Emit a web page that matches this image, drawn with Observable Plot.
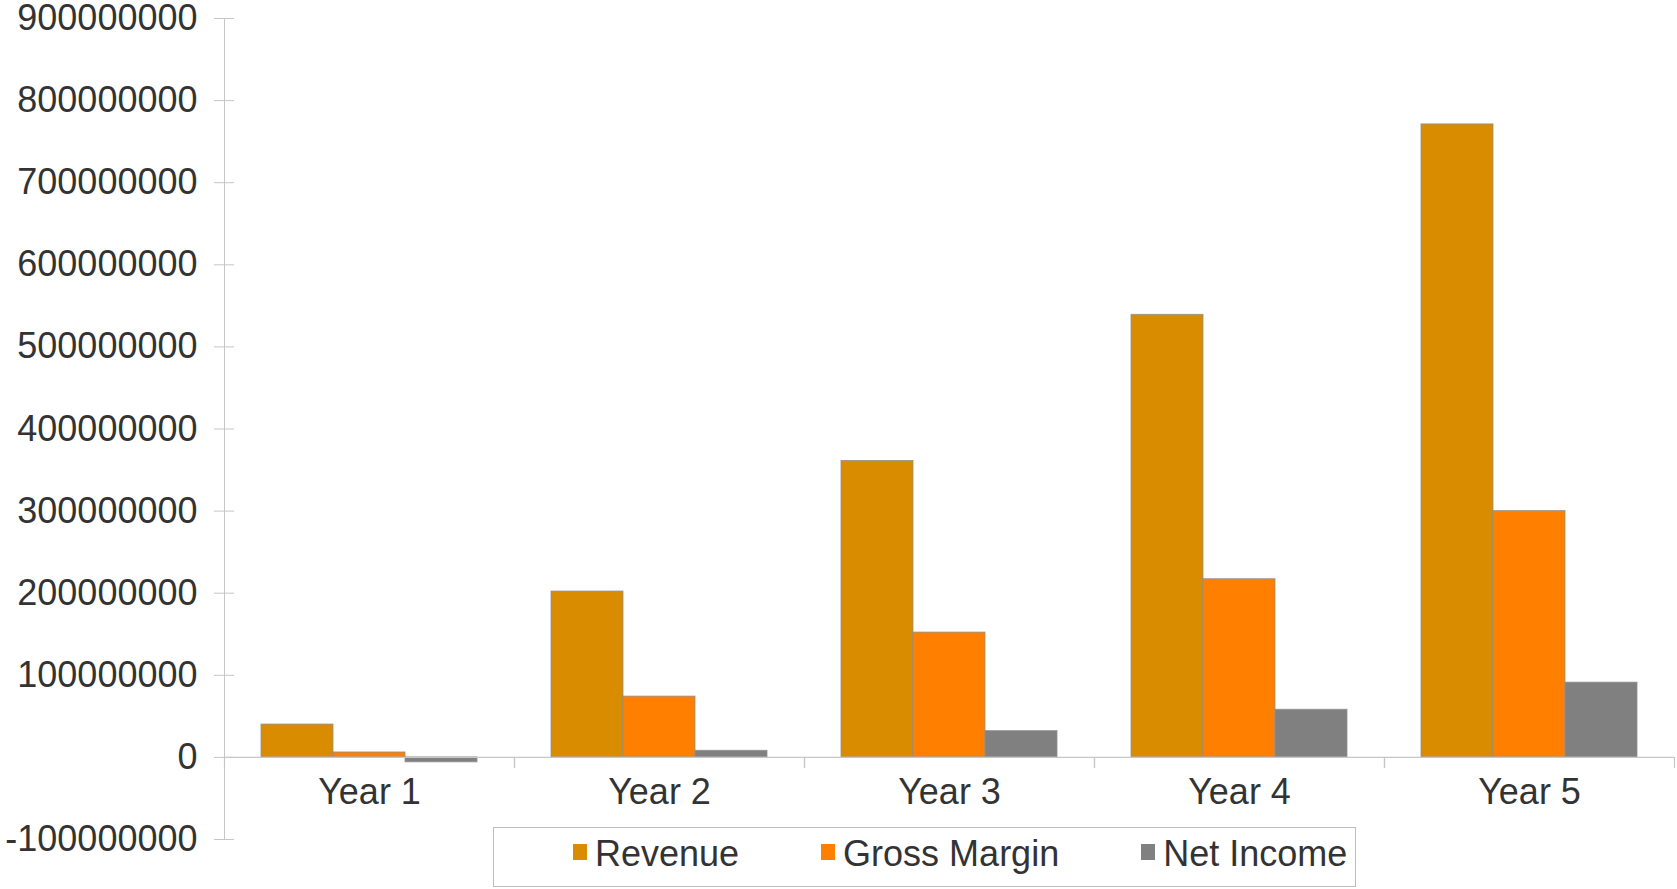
<!DOCTYPE html>
<html>
<head>
<meta charset="utf-8">
<script src="https://cdn.jsdelivr.net/npm/d3@7"></script>
<script src="https://cdn.jsdelivr.net/npm/@observablehq/plot@0.6"></script>
<style>
  html, body { margin: 0; padding: 0; background: #fff; }
  #wrap { position: relative; width: 1677px; height: 889px; font-family: "Liberation Sans", Arial, sans-serif; color: #333; }
  #legend { position: absolute; left: 493px; top: 827px; width: 863px; height: 60px; box-sizing: border-box;
            border: 1px solid #bdbdbd; display: flex; align-items: center; padding-left: 79px; font-size: 36px; line-height: 1; }
  #legend .item { display: flex; align-items: center; margin-right: 82px; white-space: nowrap; }
  #legend .item:last-child { margin-right: 0; }
  #legend .sw { display: inline-block; width: 14px; height: 16px; margin-right: 8px; position: relative; top: -5px; }
  #legend .lbl { position: relative; top: -3px; }
</style>
</head>
<body>
<div id="wrap"></div>
<script>
const years = ["Year 1", "Year 2", "Year 3", "Year 4", "Year 5"];
const seriesNames = ["Revenue", "Gross Margin", "Net Income"];
const revenue = [40e6, 202e6, 361e6, 539e6, 771e6];
const grossMargin = [6e6, 74e6, 152e6, 217e6, 300e6];
const netIncome = [-6e6, 8e6, 32e6, 58e6, 91e6];
const seriesColors = ["#d98c00", "#ff8000", "#808080"];
const yTicks = [-100000000, 0, 100000000, 200000000, 300000000, 400000000, 500000000, 600000000, 700000000, 800000000, 900000000];

const seriesValues = [revenue, grossMargin, netIncome];
const data = years.flatMap((year, i) =>
  seriesNames.map((series, s) => ({year, series, value: seriesValues[s][i]}))
);

const axisGray = "#c6c6c6";
const font = "Liberation Sans, Arial, sans-serif";
const tickShape = { draw(ctx, l) { ctx.moveTo(0, 0); ctx.lineTo(0, -l); } };

const chart = Plot.plot({
  width: 1677,
  height: 889,
  marginLeft: 223,
  marginRight: 2,
  marginTop: 18,
  marginBottom: 50,
  style: { fontFamily: font, background: "#fff", color: "#333" },
  fx: { domain: years, padding: 0, axis: null },
  x: { domain: seriesNames, paddingInner: 0, paddingOuter: 0.5, axis: null },
  y: { domain: [-100000000, 900000000], axis: null },
  color: { domain: seriesNames, range: seriesColors },
  marks: [
    Plot.frame({ anchor: "left", facetAnchor: "left", stroke: axisGray }),
    Plot.barY(data, { fx: "year", x: "series", y: "value", fill: "series", stroke: "#8f8f8f", strokeWidth: 1, strokeOpacity: 0.8 }),
    Plot.ruleY([0], { stroke: axisGray, strokeWidth: 1.2 }),
    Plot.vectorY([0], { y: d => d, frameAnchor: "left", length: 10, rotate: 180, anchor: "start", shape: tickShape, stroke: axisGray, strokeWidth: 1.2 }),
    Plot.vectorY([0], { y: d => d, frameAnchor: "right", length: 10, rotate: 180, anchor: "start", shape: tickShape, stroke: axisGray, strokeWidth: 1.2 }),
    Plot.text(years, { fx: d => d, y: () => 0, text: d => d, dy: 35, fontSize: 36, fill: "#333", lineAnchor: "middle" }),
    Plot.axisY({ ticks: yTicks, tickFormat: d => String(d), tickSize: 20, dx: 10, tickPadding: 17,
                 stroke: axisGray, fill: "#333", fontSize: 36, label: null })
  ]
});

const wrap = document.getElementById("wrap");
wrap.appendChild(chart);

const legend = document.createElement("div");
legend.id = "legend";
seriesNames.forEach((name, i) => {
  const item = document.createElement("span");
  item.className = "item";
  const sw = document.createElement("span");
  sw.className = "sw";
  sw.style.background = seriesColors[i];
  const lbl = document.createElement("span");
  lbl.className = "lbl";
  lbl.textContent = name;
  item.appendChild(sw);
  item.appendChild(lbl);
  legend.appendChild(item);
});
wrap.appendChild(legend);
</script>
</body>
</html>
